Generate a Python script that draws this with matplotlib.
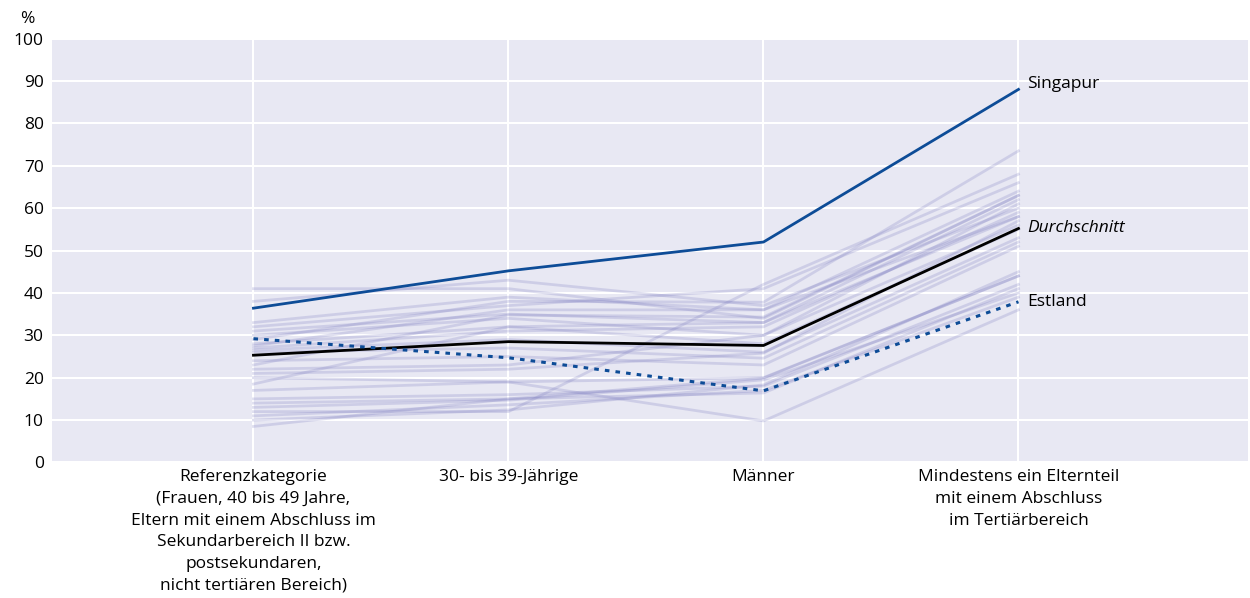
import matplotlib.pyplot as plt

# categories on the x axis
categories = [
    "Referenzkategorie\n(Frauen, 40 bis 49 Jahre,\nEltern mit einem Abschluss im\nSekundarbereich II bzw.\npostsekundaren,\nnicht tertiären Bereich)",
    "30- bis 39-Jährige",
    "Männer",
    "Mindestens ein Elternteil\nmit einem Abschluss\nim Tertiärbereich",
]

# highlighted series
singapur = [36.4, 45.2, 52.0, 88.0]
durchschnitt = [25.3, 28.5, 27.6, 55.2]
estland = [29.2, 24.7, 16.9, 37.9]

# other countries (faint lines)
others = [
    [41.0, 41.0, 34.0, 63.0],
    [38.0, 43.0, 37.0, 60.0],
    [33.0, 39.0, 36.0, 58.0],
    [32.0, 37.0, 41.0, 66.0],
    [31.0, 35.0, 33.0, 62.0],
    [30.0, 34.0, 30.0, 56.0],
    [28.0, 32.0, 28.0, 55.0],
    [27.0, 31.0, 32.0, 59.0],
    [26.5, 29.0, 26.0, 53.0],
    [26.0, 27.0, 24.6, 52.0],
    [24.0, 25.0, 23.0, 51.0],
    [22.0, 23.0, 30.0, 61.0],
    [21.0, 22.0, 25.8, 57.0],
    [20.0, 19.0, 20.0, 44.0],
    [17.0, 19.0, 9.8, 36.0],
    [15.0, 16.0, 18.0, 42.0],
    [14.0, 15.0, 16.4, 41.0],
    [13.0, 14.7, 19.5, 40.0],
    [12.0, 12.0, 42.0, 68.0],
    [11.0, 13.6, 17.0, 39.0],
    [10.0, 12.4, 18.3, 45.0],
    [8.5, 15.0, 19.9, 44.0],
    [27.5, 36.0, 36.0, 64.0],
    [23.0, 34.8, 34.3, 63.0],
    [18.5, 32.0, 33.0, 58.0],
    [29.0, 38.0, 37.8, 73.5],
]

plt.rcParams['font.family'] = ['Open Sans', 'DejaVu Sans']
fs = 12.5

fig = plt.figure(figsize=(12.5, 5.98), dpi=100)
ax = fig.add_axes([0.0416, 0.2266, 0.9568, 0.709])
ax.set_facecolor('#e8e8f3')

x = list(range(len(categories)))
for vals in others:
    ax.plot(x, vals, color='#7b7bc0', alpha=0.24, lw=2, zorder=2)

blue = '#0d4c97'
ax.plot(x, singapur, color=blue, lw=2, zorder=4)
ax.plot(x, durchschnitt, color='black', lw=2, zorder=4)
ax.plot(x, estland, color=blue, lw=2.2, ls=(0, (1.5, 2)), zorder=4)

ax.text(3.035, singapur[3] + 1.3, "Singapur", fontsize=fs, va='center')
ax.text(3.035, 55.2, "Durchschnitt", fontsize=fs, va='center', style='italic')
ax.text(3.035, 37.9, "Estland", fontsize=fs, va='center')

ax.set_xlim(-0.79, 3.9)
ax.set_ylim(0, 100)
ax.set_yticks(range(0, 101, 10))
ax.set_xticks(x)
ax.set_xticklabels(categories, fontsize=fs, linespacing=1.47)
ax.tick_params(axis='y', labelsize=fs, length=0, pad=6)
ax.tick_params(axis='x', length=0, pad=5)
for s in ax.spines.values():
    s.set_visible(False)
ax.grid(True, color='white', lw=1.5, zorder=1)
ax.set_axisbelow(True)

fig.text(0.022, 0.968, "%", fontsize=fs, ha='center', va='center')

fig.savefig('out.png', dpi=100)
